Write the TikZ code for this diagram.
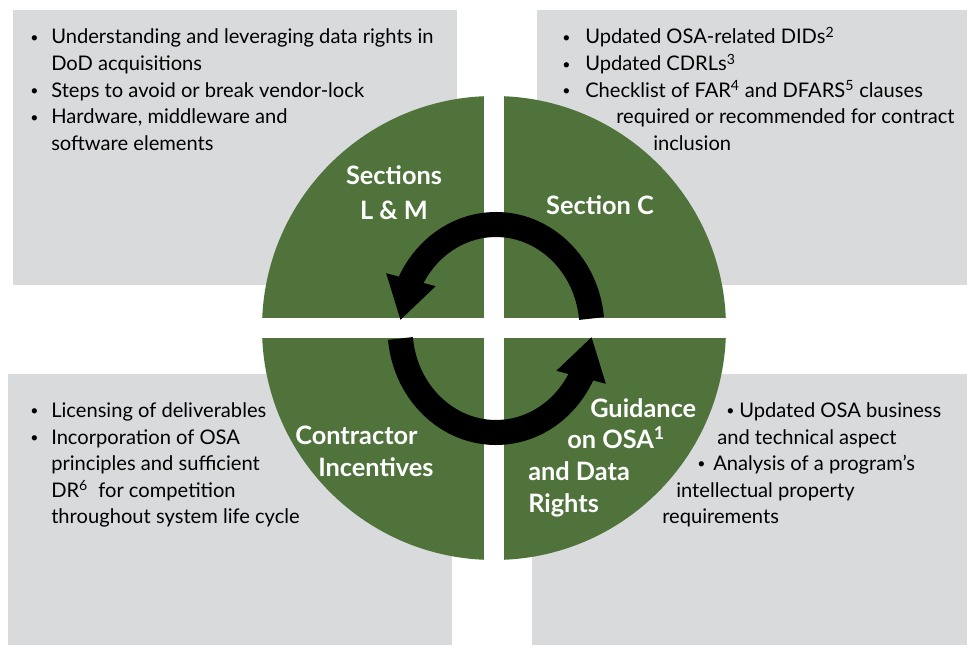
\documentclass[tikz,border=0pt]{standalone}
\usepackage{fontspec}
\setmainfont{Lato}
\usetikzlibrary{arrows.meta,bending}
\definecolor{osagreen}{RGB}{80,115,60}
\definecolor{boxgray}{RGB}{217,218,220}
\newcommand{\osabullet}{\raisebox{1.2pt}{\scalebox{0.7}{\textbullet}}}

\begin{document}
\begin{tikzpicture}[x=0.75pt,y=0.75pt]
\tikzstyle{every node}=[font=\fontsize{15.1}{20}\selectfont,anchor=base west,inner sep=0pt]
\tikzstyle{quad}=[font=\fontsize{19}{24}\selectfont\bfseries,text=white]
\tikzstyle{ring}=[line width=18.75pt,-{Triangle[length=31.5pt,width=36pt,flex]}]

\useasboundingbox (0,0) rectangle (967,-645);

% Gray boxes behind the wheel
\fill[boxgray] (13,-10) rectangle (457,-285);
\fill[boxgray] (537,-10) rectangle (967,-285);
\fill[boxgray] (8,-374) rectangle (452,-645);
\fill[boxgray] (532,-374) rectangle (967,-645);

% The wheel, cut in four
\fill[osagreen] (494,-328) circle (232);
\fill[white] (484,-90) rectangle (504,-566);
\fill[white] (256,-318) rectangle (732,-338);

% Cycle arrows
\draw[ring] ([shift={(496,-328.5)}]5.5:96 and 104)
  arc[start angle=5.5,end angle=175.5,x radius=96,y radius=104];
\draw[ring] ([shift={(496,-328.5)}]185.5:96 and 104)
  arc[start angle=185.5,end angle=355.5,x radius=96,y radius=104];

% Quadrant titles
\node[quad,anchor=base] (lm1) at (394,-185) {Sections};
\node[quad,anchor=base] (lm2) at (394,-220) {L \& M};
\node[quad,anchor=base] (secc) at (600,-215) {Section C};
\node[quad] (ci1) at (295,-444) {Contractor};
\node[quad] (ci2) at (318,-476) {Incentives};
\node[quad] (gd1) at (590,-417) {Guidance};
\node[quad] (gd2) at (567,-448) {on OSA\textsuperscript{1}};
\node[quad] (gd3) at (528,-480) {and Data};
\node[quad] (gd4) at (528,-512) {Rights};

% Top left box
\node (tlb1) at (30,-44) {\osabullet};
\node (tl1) at (51,-44) {Understanding and leveraging data rights in};
\node (tl2) at (51,-71) {DoD acquisitions};
\node (tlb2) at (30,-97.5) {\osabullet};
\node (tl3) at (51,-97.5) {Steps to avoid or break vendor-lock};
\node (tlb3) at (30,-124) {\osabullet};
\node (tl4) at (51,-124) {Hardware, middleware and};
\node (tl5) at (51,-151) {software elements};

% Top right box
\node (trb1) at (562,-44) {\osabullet};
\node (tr1) at (585,-44) {Updated OSA-related DIDs\textsuperscript{2}};
\node (trb2) at (562,-71) {\osabullet};
\node (tr2) at (585,-71) {Updated CDRLs\textsuperscript{3}};
\node (trb3) at (562,-97.5) {\osabullet};
\node (tr3) at (585,-97.5) {Checklist of FAR\textsuperscript{4} and DFARS\textsuperscript{5} clauses};
\node (tr4) at (616,-124) {required or recommended for contract};
\node (tr5) at (653,-151) {inclusion};

% Bottom left box
\node (blb1) at (30,-417) {\osabullet};
\node (bl1) at (51,-417) {Licensing of deliverables};
\node (blb2) at (30,-444) {\osabullet};
\node (bl2) at (51,-444) {Incorporation of OSA};
\node (bl3) at (51,-470.5) {principles and sufficient};
\node (bl4) at (51,-497) {DR\textsuperscript{6}\ \ for competition};
\node (bl5) at (51,-523) {throughout system life cycle};

% Bottom right box
\node (brb1) at (726,-417) {\osabullet};
\node (br1) at (739,-417) {Updated OSA business};
\node (br2) at (717,-444) {and technical aspect};
\node (brb2) at (697,-470.5) {\osabullet};
\node (br3) at (713,-470.5) {Analysis of a program’s};
\node (br4) at (676,-497) {intellectual property};
\node (br5) at (662,-523) {requirements};

\end{tikzpicture}
\end{document}
